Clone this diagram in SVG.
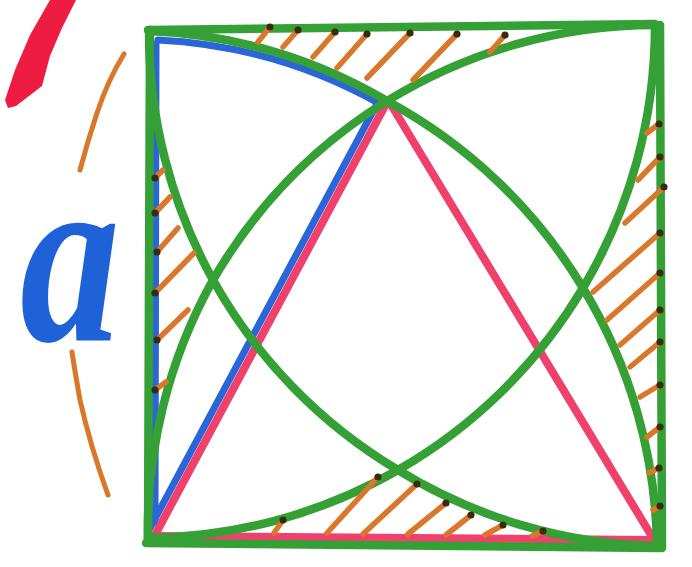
<svg xmlns="http://www.w3.org/2000/svg" width="692" height="567" viewBox="0 0 692 567">
<defs>
<style>
.g{fill:none;stroke:#35a035;stroke-width:8.5;stroke-linecap:round;stroke-linejoin:round}
.p{fill:none;stroke:#f0406c;stroke-width:8;stroke-linecap:round}
.b{fill:none;stroke:#2a66d8;stroke-width:7;stroke-linecap:round}
.h{fill:none;stroke:#d9782a;stroke-width:5.5;stroke-linecap:round;marker-end:url(#dot)}
.d{fill:none;stroke:#d9782a;stroke-linecap:round}
</style>
<marker id="dot" viewBox="0 0 4 4" refX="2" refY="2" markerWidth="1.3" markerHeight="1.3" markerUnits="strokeWidth">
<circle cx="2" cy="2" r="2" fill="#3a2a10"/>
</marker>
</defs>
<rect width="692" height="567" fill="#ffffff"/>
<g id="red-mark">
<path d="M50,0 L76,0 L62,28 L50,56 L42,86 L16,106 L8,108 L5,100 L15,70 L30,35 Z" fill="#ee1c40"/>
</g>
<g id="dimension">
<path class="d" stroke-width="5" d="M124,54 Q108,80 97,113 Q88,140 80,170"/>
<path class="d" stroke-width="5" d="M72,352 Q76,378 80,400 Q90,445 108,495"/>
<text x="0" y="0" transform="translate(20,340) scale(0.8,1)" font-family="Liberation Serif, serif" font-weight="bold" font-style="italic" font-size="250" fill="#1f62d8">a</text>
</g>
<g id="blue">
<path class="b" d="M156,44 L155,522"/>
<path class="b" d="M158,40 A505,505 0 0,1 380,104"/>
<path class="b" d="M150,528 L378,102"/>
</g>
<g id="triangle">
<path class="p" d="M155,535 L387,102"/>
<path class="p" d="M390,103 L654,540"/>
<path class="p" d="M150,536 L652,540"/>
</g>
<g id="square">
<path class="g" d="M148,30 L655,24"/>
<path class="g" d="M150,30 L148,542"/>
<path class="g" d="M146,543 L660,548"/>
<path class="g" d="M660,25 L662,548"/>
</g>
<g id="arcs">
<path class="g" d="M149,31 A512,512 0 0,1 387,101 A512,512 0 0,1 583,288 A512,512 0 0,1 657,546"/>
<path class="g" d="M148,540 A512,512 0 0,1 213,280 A512,512 0 0,1 387,101 A512,512 0 0,1 655,25"/>
<path class="g" d="M655,25 A512,512 0 0,1 583,288 A512,512 0 0,1 398,470 A512,512 0 0,1 148,538"/>
<path class="g" d="M149,31 A512,512 0 0,0 213,280 A512,512 0 0,0 398,470 A512,512 0 0,0 657,546"/>
</g>
<g id="hatching">
<path class="h" d="M258,42 L270,27"/>
<path class="h" d="M283,47 L298,30"/>
<path class="h" d="M313,57 L335,32"/>
<path class="h" d="M337,68 L367,34"/>
<path class="h" d="M367,78 L410,33"/>
<path class="h" d="M413,80 L457,34"/>
<path class="h" d="M490,52 L505,35"/>
<path class="h" d="M647,133 L659,124"/>
<path class="h" d="M638,180 L660,157"/>
<path class="h" d="M625,223 L664,187"/>
<path class="h" d="M593,292 L660,233"/>
<path class="h" d="M607,320 L660,273"/>
<path class="h" d="M620,345 L660,310"/>
<path class="h" d="M630,367 L660,342"/>
<path class="h" d="M640,397 L660,385"/>
<path class="h" d="M647,437 L660,427"/>
<path class="h" d="M649,473 L659,468"/>
<path class="h" d="M653,510 L660,506"/>
<path class="h" d="M163,170 L155,178"/>
<path class="h" d="M170,197 L155,213"/>
<path class="h" d="M178,228 L157,252"/>
<path class="h" d="M194,253 L155,293"/>
<path class="h" d="M188,310 L157,340"/>
<path class="h" d="M166,382 L155,390"/>
<path class="h" d="M274,533 L283,520"/>
<path class="h" d="M327,533 L378,477"/>
<path class="h" d="M363,534 L417,484"/>
<path class="h" d="M408,534 L446,503"/>
<path class="h" d="M446,535 L471,515"/>
<path class="h" d="M485,535 L503,525"/>
<path class="h" d="M532,536 L543,531"/>
</g>
</svg>
